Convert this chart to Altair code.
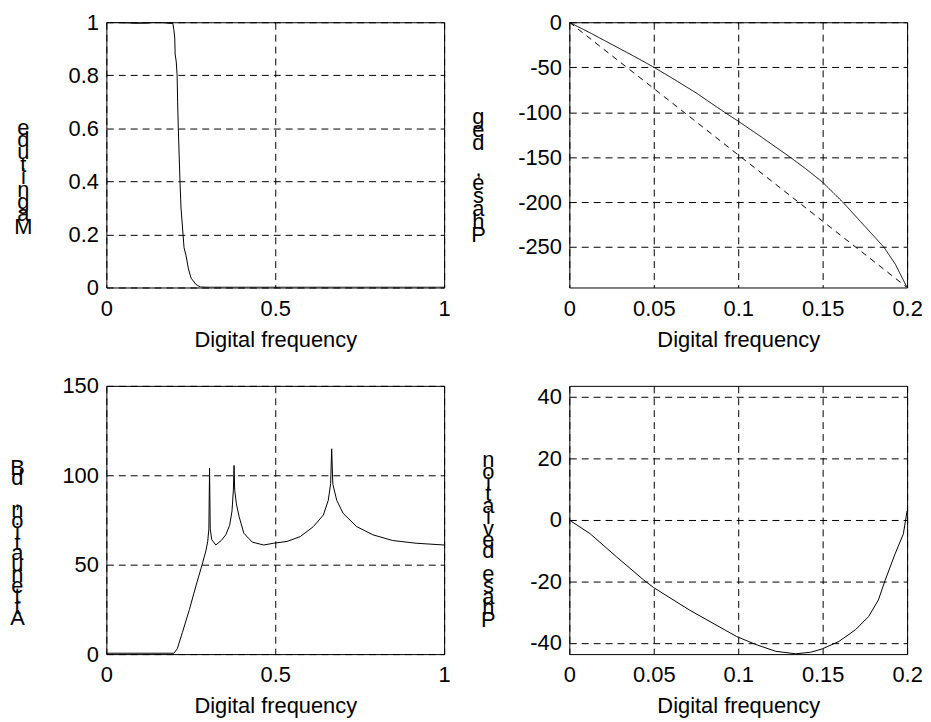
import altair as alt
import pandas as pd

# ---- Top-left: Magnitude ----
mag_x = [0, 0.03, 0.06, 0.09, 0.12, 0.15, 0.18, 0.197, 0.2, 0.2025, 0.2036, 0.207, 0.2095,
         0.211, 0.213, 0.2155, 0.218, 0.221, 0.227, 0.23, 0.236, 0.243, 0.251, 0.265, 0.278, 0.3, 0.6, 1.0]
mag_y = [1.0, 0.999, 0.998, 0.996, 0.997, 1.0, 0.997, 0.995, 0.97, 0.94, 0.88, 0.85, 0.8,
         0.7, 0.6, 0.5, 0.4, 0.3, 0.2, 0.15, 0.12, 0.07, 0.035, 0.012, 0.002, 0.001, 0.001, 0.001]

# ---- Top-right: Phase, deg ----
ph_x = [0, 0.0125, 0.025, 0.0375, 0.05, 0.0625, 0.075, 0.0918, 0.1, 0.1125, 0.1307,
        0.14, 0.15, 0.1619, 0.175, 0.1862, 0.193, 0.2]
ph_y = [0, -12, -24.5, -37, -50, -64, -78.5, -100, -110, -126, -150,
        -163, -178, -200, -227, -250, -269, -295]
lin_x = [0, 0.05, 0.1, 0.15, 0.2]
lin_y = [0, -73.7, -147.5, -221.2, -295]

# ---- Bottom-left: Attenuation, dB ----
att_x = [0, 0.1, 0.2, 0.21, 0.225, 0.246, 0.265, 0.285, 0.295, 0.3, 0.3035, 0.3055, 0.3075,
         0.312, 0.324, 0.34, 0.3535, 0.365, 0.372, 0.376, 0.378, 0.38, 0.385, 0.393, 0.407,
         0.432, 0.466, 0.4955, 0.535, 0.574, 0.613, 0.6425, 0.657, 0.664, 0.667, 0.6705,
         0.682, 0.701, 0.741, 0.789, 0.848, 0.917, 1.0]
att_y = [0.5, 0.5, 0.5, 3, 12, 25, 38, 51, 58, 63, 70, 104, 70,
         64, 61, 63.5, 66.7, 72, 80, 91.7, 105.5, 91.7, 84, 76.9, 67.6,
         62.6, 61, 62, 63, 65.7, 71.3, 77.8, 86, 95.4, 114.8, 95,
         86, 78.7, 71.3, 66.7, 63.5, 62, 61]

# ---- Bottom-right: Phase deviation ----
dev_x = [0, 0.0124, 0.028, 0.0438, 0.05, 0.0712, 0.0991, 0.1105, 0.1223, 0.134, 0.1429,
         0.1498, 0.1596, 0.1694, 0.1772, 0.183, 0.187, 0.1929, 0.1978, 0.2]
dev_y = [0, -4.5, -12, -19.4, -22, -29.3, -37.9, -40.5, -42.7, -43.5, -43.0,
         -41.9, -39.5, -35.7, -31.4, -26, -19.6, -11, -4.5, 3]

FONT = "Liberation Sans"
MINUS_FIX = "replace(datum.label, '\u2212', '-')"


def stacked(text):
    # MATLAB-style upright letters stacked bottom-to-top (blank glyph keeps the space's slot)
    return [("\u2800" if c == " " else c) for c in reversed(text)]


def xaxis(values):
    return alt.Axis(values=values, title="Digital frequency", format="~f",
                    titleX=170, titleY=42, titleAlign="center", titleBaseline="top",
                    labelExpr=MINUS_FIX)


def yaxis(values, text, lh, tx, ty):
    return alt.Axis(values=values, title=stacked(text), titleAngle=0,
                    titleLineHeight=lh, titleX=tx, titleY=ty, titleAlign="center",
                    titleBaseline="top", format="~f", labelExpr=MINUS_FIX)


def panel(df, xdom, xvals, ydom, yvals, text, lh, tx, ty, h, dash=False):
    enc = dict(
        x=alt.X("x:Q", scale=alt.Scale(domain=xdom, nice=False, zero=False), axis=xaxis(xvals)),
        y=alt.Y("y:Q", scale=alt.Scale(domain=ydom, nice=False, zero=False),
                axis=yaxis(yvals, text, lh, tx, ty)),
    )
    if dash:
        enc["strokeDash"] = alt.StrokeDash("s:N", scale=alt.Scale(domain=["phase", "linear"],
                                                                  range=[[1, 0], [6, 5]]),
                                           legend=None)
    return alt.Chart(df).mark_line(color="black", strokeWidth=1, clip=True).encode(**enc).properties(
        width=340, height=h)


df_tl = pd.DataFrame({"x": mag_x, "y": mag_y})
df_tr = pd.concat([pd.DataFrame({"x": ph_x, "y": ph_y, "s": "phase"}),
                   pd.DataFrame({"x": lin_x, "y": lin_y, "s": "linear"})])
df_bl = pd.DataFrame({"x": att_x, "y": att_y})
df_br = pd.DataFrame({"x": dev_x, "y": dev_y})

tl = panel(df_tl, [0, 1], [0, 0.5, 1], [0, 1], [0, 0.2, 0.4, 0.6, 0.8, 1],
           "Magnitude", 12.5, -84, 95.5, 267)
tr = panel(df_tr, [0, 0.2], [0, 0.05, 0.1, 0.15, 0.2], [-295, 0], [-250, -200, -150, -100, -50, 0],
           "Phase, deg", 13.3, -92, 84.5, 267, dash=True)
bl = panel(df_bl, [0, 1], [0, 0.5, 1], [0, 150], [0, 50, 100, 150],
           "Attenuation, dB", 10.8, -90, 71.75, 270)
br = panel(df_br, [0, 0.2], [0, 0.05, 0.1, 0.15, 0.2], [-43.6, 43.6], [-40, -20, 0, 20, 40],
           "Phase deviation", 11.46, -82, 64.5, 270)

chart = alt.concat(tl, tr, bl, br, columns=2, spacing={"row": 99, "column": 126},
                   bounds="flush").properties(
    padding={"left": 0, "top": 0, "right": 0, "bottom": 0}, background="white"
).configure_axis(
    labelFont=FONT, labelFontSize=22, labelColor="black", labelPadding=8,
    titleFont=FONT, titleFontSize=22, titleFontWeight="normal", titleColor="black",
    ticks=False, domain=False, grid=True, gridColor="black", gridDash=[7, 5],
    gridWidth=1, gridOpacity=1, labelFlush=False, labelOverlap=False, labelBound=False
).configure_axisX(labelPadding=11).configure_axisY(labelPadding=8).configure_view(
    stroke="black", strokeWidth=1
)

chart.save("out.html", embed_options={"renderer": "svg", "actions": False})
